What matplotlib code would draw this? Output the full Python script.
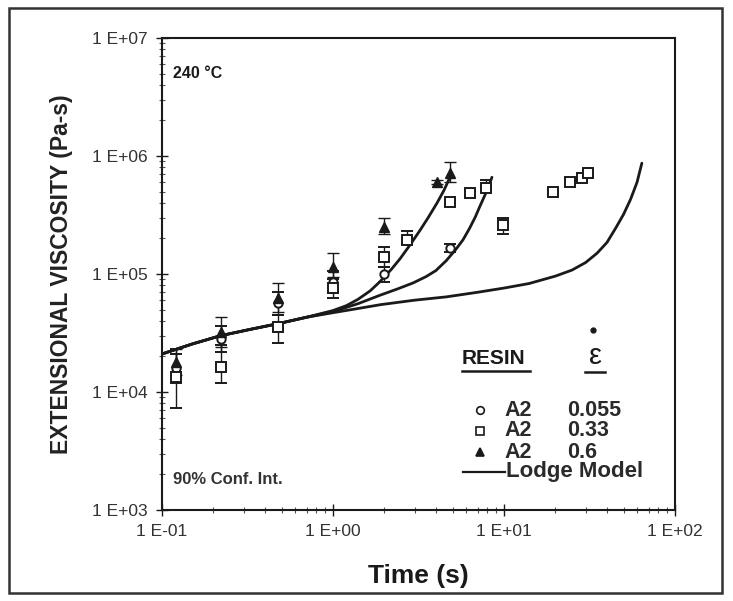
import matplotlib
matplotlib.use("Agg")
import matplotlib.pyplot as plt
import numpy as np
from matplotlib.patches import Rectangle

plt.rcParams['font.family'] = ['Liberation Sans', 'DejaVu Sans']

# ---- data ----
# strain rate 0.055 (circles)
circ_t = [0.12, 0.22, 0.48, 1.0, 2.0, 4.83]
circ_v = [1.6e4, 2.8e4, 5.7e4, 8.5e4, 1.0e5, 1.66e5]
circ_lo = [1.2e4, 2.2e4, 4.5e4, 7.0e4, 8.5e4, 1.55e5]
circ_hi = [2.1e4, 3.6e4, 7.0e4, 1.05e5, 1.15e5, 1.8e5]

# strain rate 0.33 (squares)
sq_t = [0.12, 0.22, 0.48, 1.0, 2.0, 2.71, 4.83, 6.3, 7.8, 9.9, 19.4, 24.3, 28.6, 31.0]
sq_v = [1.35e4, 1.63e4, 3.55e4, 7.6e4, 1.39e5, 1.95e5, 4.1e5, 4.9e5, 5.4e5, 2.6e5, 5.0e5, 6.0e5, 6.5e5, 7.2e5]
sq_lo = [7.3e3, 1.2e4, 2.6e4, 6.3e4, 1.15e5, 1.8e5, 3.9e5, 4.7e5, 5.2e5, 2.2e5, 4.8e5, 5.8e5, 6.3e5, 7.0e5]
sq_hi = [2.3e4, 2.5e4, 4.5e4, 9.0e4, 1.7e5, 2.3e5, 4.3e5, 5.1e5, 6.2e5, 3.0e5, 5.2e5, 6.2e5, 6.7e5, 7.4e5]

# strain rate 0.6 (triangles)
tri_t = [0.12, 0.22, 0.48, 1.0, 2.0, 4.06, 4.83]
tri_v = [1.8e4, 3.2e4, 6.3e4, 1.15e5, 2.5e5, 6.0e5, 7.2e5]
tri_lo = [1.4e4, 2.4e4, 4.8e4, 9.5e4, 2.2e5, 5.8e5, 6.0e5]
tri_hi = [2.3e4, 4.3e4, 8.4e4, 1.5e5, 3.0e5, 6.2e5, 8.9e5]

# Lodge model curves
lodge_low_t = [0.1, 0.15, 0.22, 0.33, 0.48, 0.7, 1.0, 1.4, 1.9, 3.0, 4.6, 7.0, 10.0, 14.0,
               20.0, 25.0, 30.0, 35.0, 40.0, 45.0, 50.0, 55.0, 60.0, 64.0]
lodge_low_v = [2.1e4, 2.55e4, 3.0e4, 3.4e4, 3.8e4, 4.3e4, 4.7e4, 5.1e4, 5.5e4, 6.0e4, 6.4e4,
               7.0e4, 7.6e4, 8.3e4, 9.6e4, 1.08e5, 1.25e5, 1.5e5, 1.85e5, 2.45e5, 3.2e5,
               4.3e5, 6.0e5, 8.7e5]
lodge_mid_t = [0.1, 0.15, 0.22, 0.33, 0.48, 0.7, 1.0, 1.4, 1.88, 2.4, 2.94, 3.5, 4.0, 4.6,
               5.2, 5.76, 6.3, 6.8, 7.2, 7.6, 8.0, 8.5]
lodge_mid_v = [2.1e4, 2.55e4, 3.0e4, 3.4e4, 3.8e4, 4.3e4, 4.8e4, 5.6e4, 6.6e4, 7.5e4, 8.4e4,
               9.5e4, 1.07e5, 1.3e5, 1.6e5, 1.95e5, 2.45e5, 3.05e5, 3.7e5, 4.4e5, 5.2e5, 6.6e5]
lodge_high_t = [0.1, 0.15, 0.22, 0.33, 0.48, 0.7, 1.0, 1.2, 1.4, 1.65, 1.88, 2.2, 2.47, 2.85,
                3.23, 3.6, 4.06, 4.45, 4.83]
lodge_high_v = [2.1e4, 2.55e4, 3.0e4, 3.4e4, 3.8e4, 4.3e4, 4.9e4, 5.4e4, 6.1e4, 7.2e4, 8.6e4,
                1.1e5, 1.35e5, 1.8e5, 2.35e5, 3.0e5, 4.0e5, 5.1e5, 6.6e5]

x_ticks = [0.1, 1, 10, 100]
x_labels = ["1 E-01", "1 E+00", "1 E+01", "1 E+02"]
y_ticks = [1e3, 1e4, 1e5, 1e6, 1e7]
y_labels = ["1 E+03", "1 E+04", "1 E+05", "1 E+06", "1 E+07"]

fig = plt.figure(figsize=(7.33, 6.01), dpi=100)
fig.patches.append(Rectangle((9/733, 1-593/601), (722-9)/733, (593-8)/601,
                             transform=fig.transFigure, fill=False,
                             edgecolor='#333333', linewidth=1.8))
ax = fig.add_axes([162/733, 1-510/601, (675-162)/733, (510-38)/601])
ax.set_xscale('log')
ax.set_yscale('log')
ax.set_xlim(0.1, 100)
ax.set_ylim(1e3, 1e7)

ink = '#1a1a1a'
for t, v in [(lodge_low_t, lodge_low_v), (lodge_mid_t, lodge_mid_v), (lodge_high_t, lodge_high_v)]:
    ax.plot(t, v, color=ink, lw=2.0, solid_capstyle='round', solid_joinstyle='round')

def errs(v, lo, hi):
    v = np.array(v); return [v - np.array(lo), np.array(hi) - v]

ax.errorbar(circ_t, circ_v, yerr=errs(circ_v, circ_lo, circ_hi), fmt='o', ms=6,
            mfc='white', mec=ink, mew=1.4, ecolor=ink, elinewidth=1.0, capsize=4)
ax.errorbar(sq_t, sq_v, yerr=errs(sq_v, sq_lo, sq_hi), fmt='s', ms=7.5,
            mfc='white', mec=ink, mew=1.4, ecolor=ink, elinewidth=1.0, capsize=4)
ax.errorbar(tri_t, tri_v, yerr=errs(tri_v, tri_lo, tri_hi), fmt='^', ms=7.5,
            mfc=ink, mec=ink, mew=1.0, ecolor=ink, elinewidth=1.0, capsize=4)

ax.set_xticks(x_ticks)
ax.set_xticklabels(x_labels)
ax.set_yticks(y_ticks)
ax.set_yticklabels(y_labels)
ax.tick_params(which='major', direction='inout', length=8, width=1.0, labelsize=12.5,
               colors=ink, pad=6)
ax.tick_params(which='major', labelcolor='#333333')
ax.tick_params(which='minor', direction='inout', length=4, width=0.8, colors='#555555')
for s in ax.spines.values():
    s.set_linewidth(1.5)
    s.set_color(ink)

ax.set_xlabel("Time (s)", fontsize=19, fontweight='bold', labelpad=18, color=ink)
ax.set_ylabel("EXTENSIONAL VISCOSITY (Pa-s)", fontsize=16.5, fontweight='bold',
              labelpad=14, color='#222222')

def px(x, y):
    return (x / 733, 1 - y / 601)

fig.text(*px(173, 73), "240 °C", fontsize=11.5, fontweight='bold', va='center', color=ink)
fig.text(*px(173, 480), "90% Conf. Int.", fontsize=12, fontweight='bold', va='center', color='#333333')

fig.text(*px(462, 358), "RESIN", fontsize=15, fontweight='bold', va='center', color=ink)
fig.add_artist(plt.Line2D([462/733, 530/733], [1-371/601, 1-371/601], color=ink, lw=1.8))
fig.text(*px(595, 356), "ε", fontsize=21, va='center', ha='center', color=ink)
fig.add_artist(plt.Line2D([593/733], [1-330/601], marker='o', ms=3.5, mfc=ink, mec=ink,
                          linestyle='none'))
fig.add_artist(plt.Line2D([585/733, 605/733], [1-372/601, 1-372/601], color=ink, lw=1.8))

rows = [(410, 'o', "0.055"), (431, 's', "0.33"), (452, '^', "0.6")]
for y, m, val in rows:
    fig.add_artist(plt.Line2D([480/733], [1-y/601], marker=m, ms=5.5,
                              mfc='white' if m != '^' else ink,
                              mec=ink, mew=1.2, linestyle='none'))
    fig.text(*px(504, y), "A2", fontsize=15.5, fontweight='bold', va='center', color='#2a2a2a')
    fig.text(*px(567, y), val, fontsize=15.5, fontweight='bold', va='center', color='#2a2a2a')
fig.add_artist(plt.Line2D([463/733, 505/733], [1-472/601, 1-472/601], color=ink, lw=1.6))
fig.text(*px(506, 472), "Lodge Model", fontsize=16, fontweight='bold', va='center', color='#2a2a2a')

fig.savefig("out.png", dpi=100)
